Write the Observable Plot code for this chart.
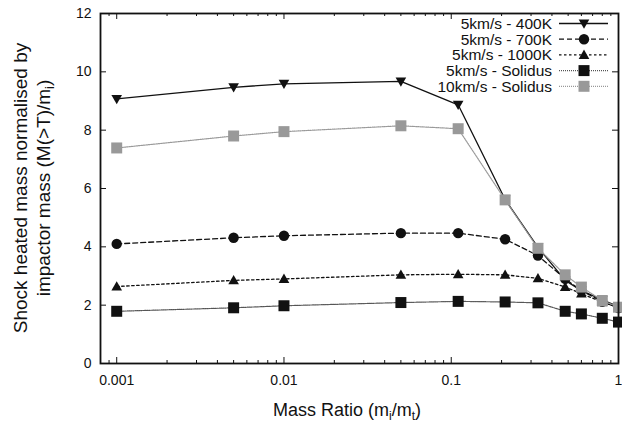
<!DOCTYPE html>
<html><head><meta charset="utf-8">
<script src="https://cdn.jsdelivr.net/npm/d3@7"></script>
<script src="https://cdn.jsdelivr.net/npm/@observablehq/plot@0.6"></script>
<style>
body{margin:0;background:#fff;}
#chart{position:relative;width:622px;height:424px;}
</style></head><body><div id="chart"></div>
<script>
// ---- data ----
const massRatio = [0.001, 0.005, 0.01, 0.05, 0.11, 0.21, 0.33, 0.48, 0.6, 0.8, 1];
const s400K      = [9.07, 9.47, 9.59, 9.67, 8.87, 5.62, 3.98, 2.85, 2.50, 2.18, 1.95];
const s700K      = [4.10, 4.31, 4.38, 4.47, 4.47, 4.26, 3.70, 2.90, 2.50, 2.12, 1.90];
const s1000K     = [2.64, 2.85, 2.90, 3.04, 3.06, 3.04, 2.92, 2.62, 2.40, 2.10, 1.93];
const sSolidus5  = [1.79, 1.91, 1.98, 2.09, 2.13, 2.11, 2.08, 1.79, 1.70, 1.55, 1.42];
const sSolidus10 = [7.39, 7.80, 7.95, 8.15, 8.05, 5.61, 3.95, 3.04, 2.62, 2.16, 1.93];
const seriesNames = ["5km/s - 400K", "5km/s - 700K", "5km/s - 1000K", "5km/s - Solidus", "10km/s - Solidus"];
const xTicks = [0.001, 0.01, 0.1, 1];
const xMinorTicks = [0.0009, 0.002, 0.003, 0.004, 0.005, 0.006, 0.007, 0.008, 0.009,
  0.02, 0.03, 0.04, 0.05, 0.06, 0.07, 0.08, 0.09,
  0.2, 0.3, 0.4, 0.5, 0.6, 0.7, 0.8, 0.9];
const yTicks = [0, 2, 4, 6, 8, 10, 12];

// ---- symbols ----
const triDown = {draw(ctx, size){ const s = Math.sqrt(size); ctx.moveTo(-0.6*s, -0.45*s); ctx.lineTo(0.6*s, -0.45*s); ctx.lineTo(0, 0.6*s); ctx.closePath(); }};
const triUp = {draw(ctx, size){ const s = Math.sqrt(size); ctx.moveTo(-0.6*s, 0.45*s); ctx.lineTo(0.6*s, 0.45*s); ctx.lineTo(0, -0.6*s); ctx.closePath(); }};

const styles = [
  {values: s400K,      stroke: "#111", dash: null,      width: 1.3, symbol: triDown,   r: 5.0, fill: "#111"},
  {values: s700K,      stroke: "#111", dash: "5,3",     width: 1.3, symbol: "circle",  r: 5.2, fill: "#111"},
  {values: s1000K,     stroke: "#111", dash: "2.5,2.5", width: 1.3, symbol: triUp,     r: 5.0, fill: "#111"},
  {values: sSolidus5,  stroke: "#555", dash: "1,1",     width: 1.2, symbol: "square",  r: 6.2, fill: "#111"},
  {values: sSolidus10, stroke: "#999", dash: "1,1",     width: 1.2, symbol: "square",  r: 6.2, fill: "#999"}
];

const W = 622, H = 424, mL = 100, mR = 4, mT = 13, mB = 61;
const pw = W - mL - mR, ph = H - mT - mB;

const seriesMarks = styles.flatMap((s, k) => {
  const rows = massRatio.map((m, i) => ({x: m, y: s.values[i], series: seriesNames[k]}));
  return [
    Plot.line(rows, {x: "x", y: "y", stroke: s.stroke, strokeWidth: s.width, strokeDasharray: s.dash}),
    Plot.dot(rows, {x: "x", y: "y", symbol: () => s.symbol, r: s.r, fill: s.fill, stroke: "none"})
  ];
});

const plot = Plot.plot({
  width: W, height: H,
  marginLeft: mL, marginRight: mR, marginTop: mT, marginBottom: mB,
  style: {fontFamily: "'Liberation Sans', Arial, sans-serif", fontSize: "14px", color: "#111", background: "#fff"},
  x: {type: "log", domain: [0.0008, 1]},
  y: {domain: [0, 12]},
  symbol: {type: "identity"},
  marks: [
    Plot.ruleX(xTicks, {x: d => d, insetTop: ph - 6, stroke: "#111", strokeWidth: 1}),
    Plot.ruleX(xTicks, {x: d => d, insetBottom: ph - 6, stroke: "#111", strokeWidth: 1}),
    Plot.ruleX(xMinorTicks, {x: d => d, insetTop: ph - 3, stroke: "#111", strokeWidth: 1}),
    Plot.ruleX(xMinorTicks, {x: d => d, insetBottom: ph - 3, stroke: "#111", strokeWidth: 1}),
    Plot.ruleY(yTicks, {y: d => d, insetRight: pw - 6, stroke: "#111", strokeWidth: 1}),
    Plot.ruleY(yTicks, {y: d => d, insetLeft: pw - 6, stroke: "#111", strokeWidth: 1}),
    Plot.axisX({ticks: xTicks, tickSize: 0, tickPadding: 12, tickFormat: d => String(d), label: null, fontSize: 14}),
    Plot.axisY({ticks: yTicks, tickSize: 0, tickPadding: 9, label: null, fontSize: 14}),
    ...seriesMarks,
    Plot.frame({stroke: "#111", strokeWidth: 1.8})
  ]
});
document.getElementById("chart").appendChild(plot);

// ---- titles ----
const svg = d3.select(plot);
const font = "'Liberation Sans', Arial, sans-serif";
const xt = svg.append("text").attr("x", 347).attr("y", 416).attr("text-anchor", "middle")
  .attr("font-family", font).attr("font-size", 18).attr("fill", "#111");
xt.append("tspan").text("Mass Ratio (m");
xt.append("tspan").attr("font-size", 12).attr("dy", 4).text("i");
xt.append("tspan").attr("dy", -4).text("/m");
xt.append("tspan").attr("font-size", 12).attr("dy", 4).text("t");
xt.append("tspan").attr("dy", -4).text(")");

svg.append("text").attr("transform", "translate(27,188) rotate(-90)").attr("text-anchor", "middle")
  .attr("font-family", font).attr("font-size", 19).attr("fill", "#111").text("Shock heated mass normalised by");
const yt2 = svg.append("text").attr("transform", "translate(50,188) rotate(-90)").attr("text-anchor", "middle")
  .attr("font-family", font).attr("font-size", 19).attr("fill", "#111");
yt2.append("tspan").text("impactor mass (M(>T)/m");
yt2.append("tspan").attr("font-size", 13).attr("dy", 4).text("i");
yt2.append("tspan").attr("dy", -4).text(")");

// ---- legend ----
const lg = svg.append("g");
styles.forEach((s, k) => {
  const y = 23.5 + k * 15.7;
  lg.append("text").attr("x", 552).attr("y", y).attr("dy", "0.35em").attr("text-anchor", "end")
    .attr("font-family", font).attr("font-size", 15.5).attr("fill", "#111").text(seriesNames[k]);
  lg.append("line").attr("x1", 559).attr("x2", 608).attr("y1", y).attr("y2", y)
    .attr("stroke", s.stroke).attr("stroke-width", s.width).attr("stroke-dasharray", s.dash);
  const symType = s.symbol === "circle" ? d3.symbolCircle : s.symbol === "square" ? d3.symbolSquare : s.symbol;
  lg.append("path").attr("transform", `translate(584,${y})`)
    .attr("d", d3.symbol(symType, Math.PI * s.r * s.r)()).attr("fill", s.fill);
});
</script>
</body></html>
